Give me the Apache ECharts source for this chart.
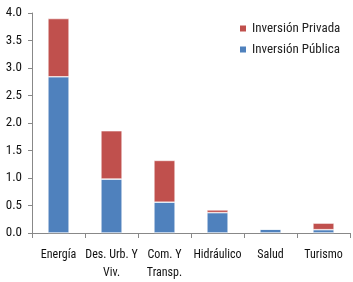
<!DOCTYPE html>
<html><head><meta charset="utf-8">
<script src="https://cdn.jsdelivr.net/npm/echarts@6/dist/echarts.min.js"></script>
<style>html,body{margin:0;padding:0;background:#fff}#c{width:353px;height:282px}</style>
</head><body><div id="c"></div>
<script>
const categories = ['Energía', 'Des. Urb. Y\nViv.', 'Com. Y\nTransp.', 'Hidráulico', 'Salud', 'Turismo'];
const publica = [2.84, 0.98, 0.56, 0.37, 0.07, 0.06];
const privada = [1.06, 0.88, 0.76, 0.05, 0.00, 0.12];
const yTicks = [0, 0.5, 1, 1.5, 2, 2.5, 3, 3.5, 4];
const FONT = '"Roboto Condensed", "Liberation Sans Narrow", sans-serif';
const chart = echarts.init(document.getElementById('c'), null, {renderer: 'canvas'});
chart.setOption({
  animation: false,
  textStyle: {fontFamily: FONT},
  grid: {left: 32, right: 3, top: 13, bottom: 47, containLabel: false},
  legend: {
    data: ['Inversión Privada', 'Inversión Pública'],
    orient: 'vertical', left: 233, top: 17, itemWidth: 8, itemHeight: 8, itemGap: 8,
    icon: 'rect',
    textStyle: {fontFamily: FONT, fontSize: 13, color: '#222'}
  },
  xAxis: {
    type: 'category', data: categories,
    axisLine: {lineStyle: {color: '#888'}},
    axisTick: {show: true, length: 5, lineStyle: {color: '#888'}},
    axisLabel: {fontFamily: FONT, fontSize: 12, color: '#111', interval: 0, margin: 13, lineHeight: 18}
  },
  yAxis: {
    type: 'value', min: yTicks[0], max: yTicks[yTicks.length - 1], interval: 0.5,
    axisLine: {show: true, lineStyle: {color: '#888'}},
    axisTick: {show: true, length: 4, lineStyle: {color: '#888'}},
    splitLine: {show: false},
    axisLabel: {fontFamily: FONT, fontSize: 13, color: '#111', margin: 10,
      formatter: v => v.toFixed(1)}
  },
  series: [
    {name: 'Inversión Pública', type: 'bar', stack: 't', data: publica, barWidth: '40%',
     itemStyle: {color: '#4F81BD', borderColor: '#fff', borderWidth: 0.6}},
    {name: 'Inversión Privada', type: 'bar', stack: 't', data: privada, barWidth: '40%',
     itemStyle: {color: '#C0504D', borderColor: '#fff', borderWidth: 0.6}}
  ]
});
</script></body></html>
